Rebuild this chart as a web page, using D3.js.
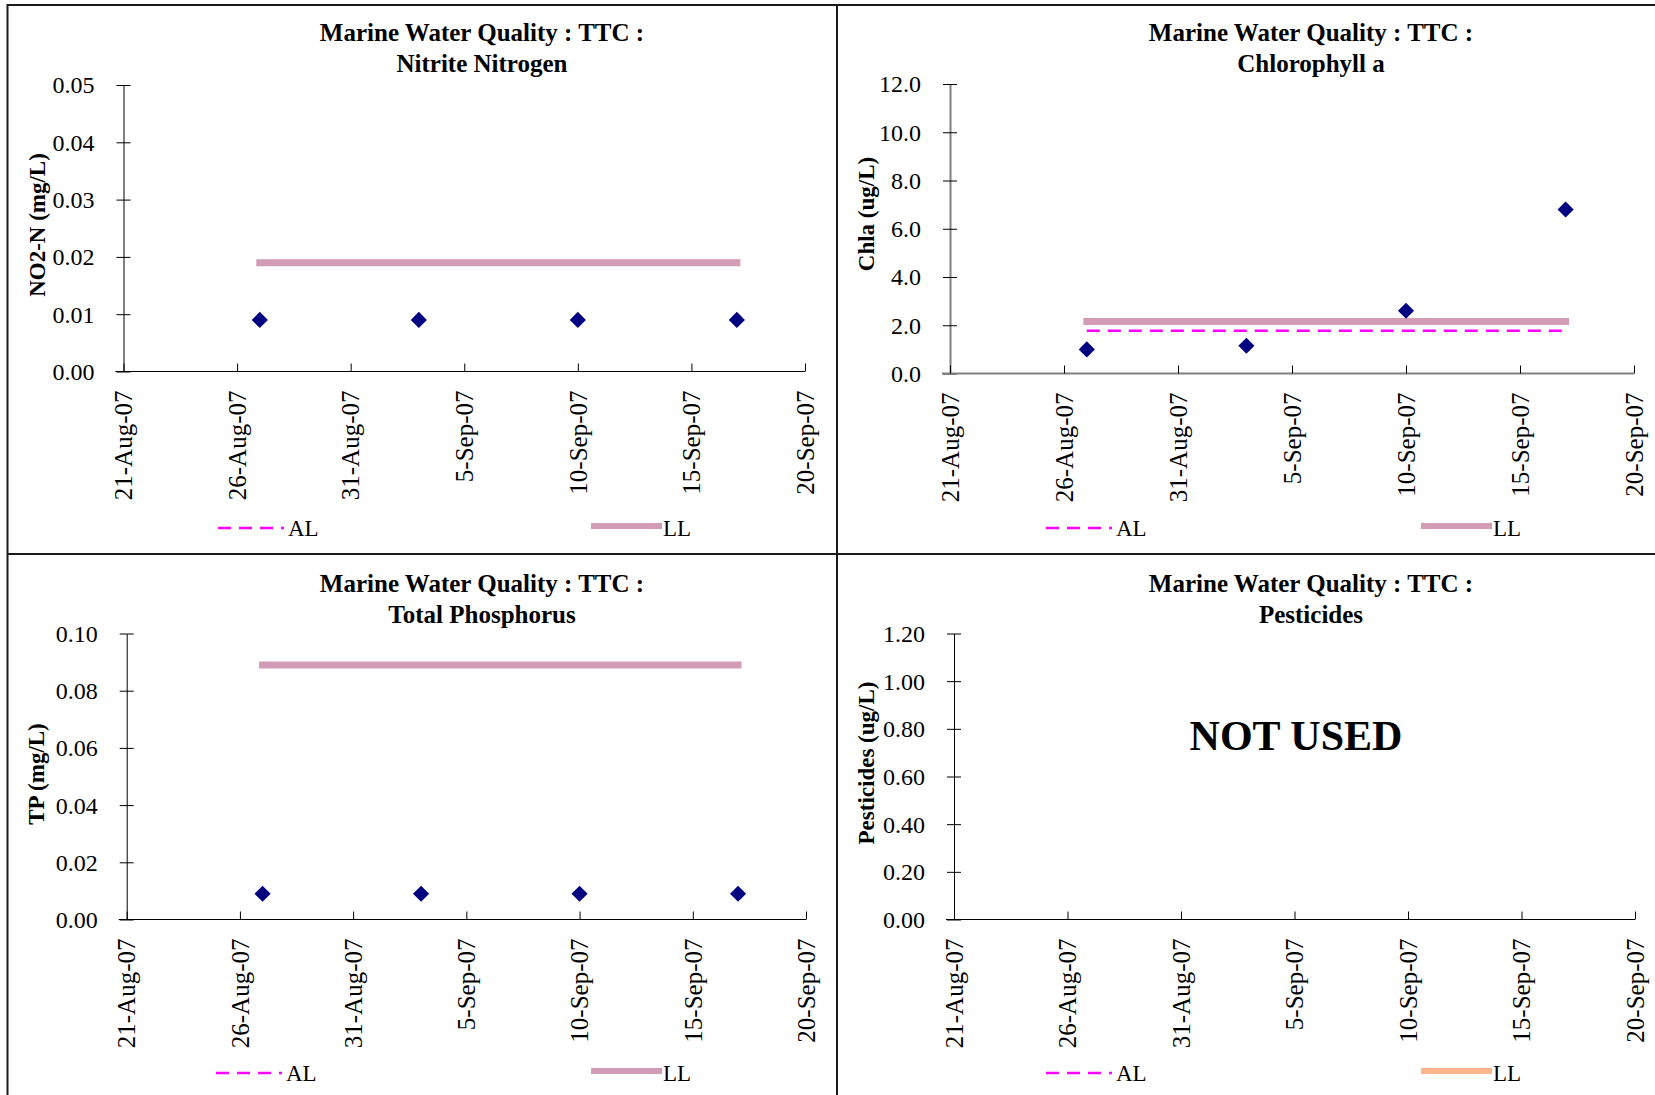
<!DOCTYPE html>
<html><head><meta charset="utf-8">
<script src="https://cdn.jsdelivr.net/npm/d3@7"></script>
<style>
html,body{margin:0;padding:0;background:#fff;}
svg{display:block;}
text{font-family:"Liberation Serif","Times New Roman",serif;fill:#000;}
</style></head>
<body>
<svg id="c" width="1655" height="1095"></svg>
<script>
// ---------- data ----------
const xTickDates = ["2007-08-21","2007-08-26","2007-08-31","2007-09-05","2007-09-10","2007-09-15","2007-09-20"];
const sampleDates = ["2007-08-27","2007-09-03","2007-09-10","2007-09-17"];

const no2Values = [0.009, 0.009, 0.009, 0.009];
const no2LL = [0.019, 0.019, 0.019, 0.019];
const no2Ticks = [0, 0.01, 0.02, 0.03, 0.04, 0.05];

const chlaValues = [1.0, 1.15, 2.6, 6.8];
const chlaLL = [2.16, 2.16, 2.16, 2.16];
const chlaAL = [1.77, 1.77, 1.77, 1.77];
const chlaTicks = [0, 2, 4, 6, 8, 10, 12];

const tpValues = [0.009, 0.009, 0.009, 0.009];
const tpLL = [0.089, 0.089, 0.089, 0.089];
const tpTicks = [0, 0.02, 0.04, 0.06, 0.08, 0.10];

const pestTicks = [0, 0.2, 0.4, 0.6, 0.8, 1.0, 1.2];

const titleLine1 = "Marine Water Quality : TTC :";
const panelTitles = ["Nitrite Nitrogen", "Chlorophyll a", "Total Phosphorus", "Pesticides"];
const yTitles = ["NO2-N (mg/L)", "Chla (ug/L)", "TP (mg/L)", "Pesticides (ug/L)"];

// ---------- layout ----------
const parse = d3.utcParse("%Y-%m-%d");
const fmtX = d3.utcFormat("%-d-%b-%y");
const svg = d3.select("#c");

const panels = [
  {x0:123.5, x1:805, yTop:85, yBot:371.5, yMax:0.05, ticks:no2Ticks, fmt:".2f",
   vals:no2Values, ll:no2LL, al:null, title:panelTitles[0], ytitle:yTitles[0],
   cx:482, tY:41, ytx:45, yty:225, legY:527, alX:218, llX:591, llColor:"#d29bb6", axisColor:"#000", axisW:1},
  {x0:950, x1:1634, yTop:84, yBot:373.5, yMax:12, ticks:chlaTicks, fmt:".1f",
   vals:chlaValues, ll:chlaLL, al:chlaAL, title:panelTitles[1], ytitle:yTitles[1],
   cx:1311, tY:41, ytx:874, yty:214, legY:527, alX:1046, llX:1421, llColor:"#d29bb6", axisColor:"#808080", axisW:2},
  {x0:126.7, x1:806, yTop:633.5, yBot:919.5, yMax:0.10, ticks:tpTicks, fmt:".2f",
   vals:tpValues, ll:tpLL, al:null, title:panelTitles[2], ytitle:yTitles[2],
   cx:482, tY:592, ytx:44, yty:774, legY:1072, alX:216, llX:591, llColor:"#d29bb6", axisColor:"#000", axisW:1},
  {x0:954, x1:1635, yTop:633.5, yBot:919.5, yMax:1.2, ticks:pestTicks, fmt:".2f",
   vals:null, ll:null, al:null, title:panelTitles[3], ytitle:yTitles[3],
   cx:1311, tY:592, ytx:874, yty:763, legY:1072, alX:1046, llX:1421, llColor:"#fbb58c", axisColor:"#000", axisW:1}
];

// borders
const border = svg.append("g").attr("stroke","#1a1a1a").attr("stroke-width",2);
border.append("line").attr("x1",7).attr("x2",1655).attr("y1",5).attr("y2",5);
border.append("line").attr("x1",7.5).attr("x2",7.5).attr("y1",4).attr("y2",1095);
border.append("line").attr("x1",837).attr("x2",837).attr("y1",4).attr("y2",1095);
border.append("line").attr("x1",7).attr("x2",1655).attr("y1",554).attr("y2",554);

panels.forEach(p => {
  const g = svg.append("g");
  const x = d3.scaleUtc().domain([parse(xTickDates[0]), parse(xTickDates[xTickDates.length-1])]).range([p.x0, p.x1]);
  const y = d3.scaleLinear().domain([0, p.yMax]).range([p.yBot, p.yTop]);

  // titles
  g.append("text").attr("x",p.cx).attr("y",p.tY).attr("text-anchor","middle")
    .attr("font-size",25).attr("font-weight","bold").text(titleLine1);
  g.append("text").attr("x",p.cx).attr("y",p.tY+30.5).attr("text-anchor","middle")
    .attr("font-size",25).attr("font-weight","bold").text(p.title);

  // y-axis title
  g.append("text").attr("transform",`translate(${p.ytx},${p.yty}) rotate(-90)`)
    .attr("text-anchor","middle").attr("font-size",23).attr("font-weight","bold").text(p.ytitle);

  // y axis
  const yAxis = d3.axisLeft(y).tickValues(p.ticks).tickFormat(d3.format(p.fmt)).tickSizeOuter(0).tickSizeInner(7).tickPadding(0);
  const ga = g.append("g").attr("transform",`translate(${p.x0},0)`).call(yAxis);
  ga.select(".domain").attr("stroke",p.axisColor).attr("stroke-width",p.axisW);
  ga.selectAll(".tick line").attr("x1",-7).attr("x2",7).attr("stroke","#000");
  ga.selectAll(".tick text").attr("x",-29).attr("dy","0.33em")
    .attr("font-family","Liberation Serif, Times New Roman, serif").attr("font-size",24).attr("fill","#000");

  // x axis
  const xAxis = d3.axisBottom(x).tickValues(xTickDates.map(parse)).tickFormat(fmtX).tickSizeOuter(0).tickSizeInner(8);
  const gx = g.append("g").attr("transform",`translate(0,${p.yBot})`).call(xAxis);
  gx.select(".domain").attr("d",`M${p.x0-8},0H${p.x1}`).attr("stroke",p.axisColor).attr("stroke-width",p.axisW);
  gx.selectAll(".tick line").attr("y1",0).attr("y2",-8).attr("stroke","#000");
  gx.selectAll(".tick text").attr("transform","rotate(-90)").attr("text-anchor","end")
    .attr("x",-19).attr("y",0).attr("dy","0.33em")
    .attr("font-family","Liberation Serif, Times New Roman, serif").attr("font-size",25).attr("fill","#000");

  const sd = sampleDates.map(parse);
  const line = d3.line().x((d,i)=>x(sd[i])).y(d=>y(d));

  if (p.ll) {
    g.append("path").attr("d",line(p.ll)).attr("fill","none").attr("stroke",p.llColor)
      .attr("stroke-width",7).attr("stroke-linecap","square");
  }
  if (p.al) {
    g.append("path").attr("d",line(p.al)).attr("fill","none").attr("stroke","#ff00ff")
      .attr("stroke-width",2.5).attr("stroke-dasharray","13 8");
  }
  if (p.vals) {
    g.selectAll("path.pt").data(p.vals).join("path").attr("class","pt")
      .attr("d",d3.symbol(d3.symbolSquare, 130)())
      .attr("transform",(d,i)=>`translate(${x(sd[i])},${y(d)}) rotate(45)`)
      .attr("fill","#000080");
  }

  // legend
  g.append("line").attr("x1",p.alX).attr("x2",p.alX+66).attr("y1",p.legY+1).attr("y2",p.legY+1)
    .attr("stroke","#ff00ff").attr("stroke-width",2.7).attr("stroke-dasharray","13 8");
  g.append("text").attr("x",p.alX+70).attr("y",p.legY+9).attr("font-size",23).text("AL");
  g.append("line").attr("x1",p.llX).attr("x2",p.llX+71).attr("y1",p.legY-1).attr("y2",p.legY-1)
    .attr("stroke",p.llColor).attr("stroke-width",6);
  g.append("text").attr("x",p.llX+72).attr("y",p.legY+9).attr("font-size",23).text("LL");

  if (!p.vals) {
    g.append("text").attr("x",1296).attr("y",750).attr("text-anchor","middle")
      .attr("font-size",42).attr("font-weight","bold").text("NOT USED");
  }
});
</script>
</body></html>
